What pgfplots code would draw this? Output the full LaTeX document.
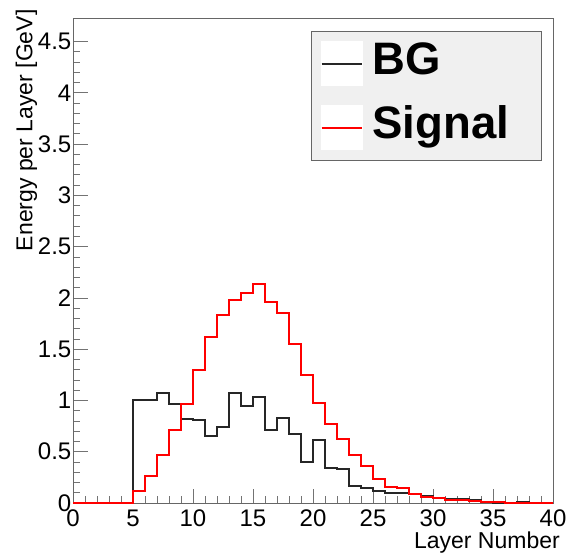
\documentclass[border=0pt]{standalone}
\usepackage{fontspec}
\setmainfont{Liberation Sans}
\usepackage{pgfplots}
\pgfplotsset{compat=1.18}
\usepackage{pgfplotstable}

% Mean energy deposited per calorimeter layer (GeV), one row per layer bin
\pgfplotstableread{
layer bg     signal
0     0      0
1     0      0
2     0      0
3     0      0
4     0      0
5     1.00   0.117
6     1.00   0.26
7     1.07   0.47
8     0.97   0.71
9     0.82   0.965
10    0.81   1.296
11    0.65   1.62
12    0.74   1.83
13    1.07   1.98
14    0.945  2.05
15    1.03   2.14
16    0.71   1.96
17    0.83   1.85
18    0.67   1.55
19    0.40   1.245
20    0.61   0.977
21    0.345  0.77
22    0.33   0.622
23    0.165  0.466
24    0.143  0.358
25    0.117  0.231
26    0.10   0.16
27    0.094  0.143
28    0.085  0.091
29    0.065  0.062
30    0.049  0.049
31    0.039  0.029
32    0.036  0.026
33    0.026  0.02
34    0.006  0.013
35    0.004  0.007
36    0.004  0.004
37    0.012  0.001
38    0.004  0.004
39    0.002  0.001
40    0.002  0.001
}\layers

\begin{document}
\begin{tikzpicture}
\useasboundingbox (-73pt,-49pt) rectangle (496pt,503pt);
\begin{axis}[
  at={(0pt,0pt)}, anchor=south west,
  scale only axis, width=480pt, height=485pt,
  xmin=0, xmax=40, ymin=0, ymax=4.73,
  xtick={0,5,10,15,20,25,30,35,40},
  ytick={0,0.5,1,1.5,2,2.5,3,3.5,4,4.5},
  minor x tick num=4, minor y tick num=4,
  tick align=inside, tick pos=left,
  major tick length=14.5pt, minor tick length=7pt,
  every tick/.style={black!55, line width=0.8pt},
  axis line style={black!60, line width=0.9pt},
  /pgf/number format/assume math mode=true,
  /pgf/number format/fixed,
  ticklabel style={font=\fontsize{24}{24}\selectfont},
  yticklabel style={anchor=east, inner sep=0pt, xshift=-1.5pt},
  xticklabel style={anchor=north, inner sep=0pt, yshift=-7pt},
  every axis x label/.style={at={(axis description cs:1.0146,-0.0934)}, anchor=base east, inner sep=0pt, font=\fontsize{23}{23}\selectfont},
  every axis y label/.style={at={(axis description cs:-0.097,1.018)}, rotate=90, anchor=east, inner sep=0pt, font=\fontsize{23}{23}\selectfont},
  xlabel={Layer Number},
  ylabel={Energy per Layer [GeV]},
  legend style={at={(axis description cs:0.977,0.973)}, anchor=north east,
    fill=black!6, draw=black!60, line width=0.8pt,
    font=\fontsize{45.5}{45.5}\bfseries\selectfont,
    inner xsep=9pt, inner ysep=10pt, row sep=19pt, column sep=10pt,
    nodes={inner sep=0pt, text height=33pt, text depth=11pt, text width=160pt}},
  legend image code/.code={%
    \fill[white] (0pt,-21.5pt) rectangle (40pt,21.5pt);
    \draw[#1, line width=1.3pt] (0pt,0pt) -- (40pt,0pt);},
  legend cell align=left,
]
\addplot[const plot mark left, draw=black!85, line width=2pt] table[x=layer, y=bg] {\layers};
\addlegendentry{BG}
\addplot[const plot mark left, draw=red, line width=2pt] table[x=layer, y=signal] {\layers};
\addlegendentry{Signal}
\end{axis}
\end{tikzpicture}
\end{document}
